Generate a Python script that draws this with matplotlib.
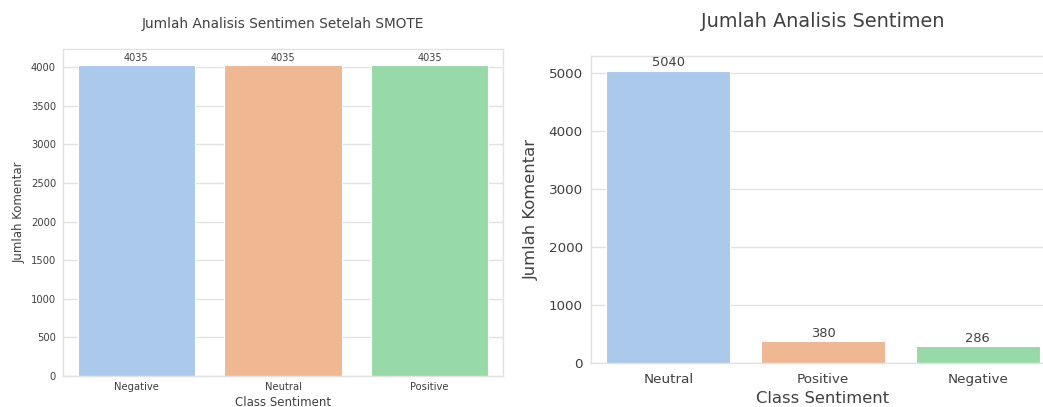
import matplotlib
matplotlib.use("Agg")
import matplotlib.pyplot as plt
import seaborn as sns

# Data
cats_smote = ["Negative", "Neutral", "Positive"]
counts_smote = [4035, 4035, 4035]
cats_orig = ["Neutral", "Positive", "Negative"]
counts_orig = [5040, 380, 286]

sns.set_theme(style="whitegrid")
plt.rcParams['font.family'] = ['DejaVu Sans']
text_c = "#404040"
plt.rcParams['text.color'] = text_c
plt.rcParams['axes.labelcolor'] = text_c
plt.rcParams['xtick.color'] = text_c
plt.rcParams['ytick.color'] = text_c

grid_c = "#e2e2e2"
colors = sns.color_palette("pastel", desat=0.75)[:3]

W, H = 1043, 407
fig = plt.figure(figsize=(W / 100, H / 100), dpi=100)


def style(ax):
    ax.xaxis.grid(False)
    ax.yaxis.grid(True, color=grid_c, linewidth=1.0)
    for s in ax.spines.values():
        s.set_color(grid_c)
        s.set_linewidth(1.0)


# Left chart
ax1 = fig.add_axes([63 / W, (H - 376) / H, 440 / W, 327 / H])
b1 = ax1.bar(range(len(cats_smote)), counts_smote, width=0.8, color=colors,
             edgecolor="white", linewidth=0.8)
ax1.set_xticks(range(len(cats_smote)))
ax1.set_xticklabels(cats_smote)
ax1.set_xlim(-0.5, len(cats_smote) - 0.5)
ax1.set_ylim(0, max(counts_smote) * 1.05)
ax1.set_yticks(range(0, 4001, 500))
ax1.tick_params(axis="both", labelsize=7.2, length=0)
ax1.tick_params(axis="x", pad=4.5)
ax1.tick_params(axis="y", pad=5)
style(ax1)
ax1.set_title("Jumlah Analisis Sentimen Setelah SMOTE", fontsize=9.8, pad=15)
ax1.set_xlabel("Class Sentiment", fontsize=8.5, labelpad=2.5)
ax1.set_ylabel("Jumlah Komentar", fontsize=8.5, labelpad=4)
ax1.bar_label(b1, labels=[str(v) for v in counts_smote], fontsize=7.0, padding=1)

# Right chart
ax2 = fig.add_axes([591 / W, (H - 363) / H, 464 / W, 307 / H])
b2 = ax2.bar(range(len(cats_orig)), counts_orig, width=0.8, color=colors,
             edgecolor="white", linewidth=0.8)
ax2.set_xticks(range(len(cats_orig)))
ax2.set_xticklabels(cats_orig)
ax2.set_xlim(-0.5, len(cats_orig) - 0.5)
ax2.set_ylim(0, max(counts_orig) * 1.05)
ax2.set_yticks(range(0, 5001, 1000))
ax2.tick_params(axis="both", labelsize=9.7, length=0)
ax2.tick_params(axis="x", pad=7)
ax2.tick_params(axis="y", pad=6)
style(ax2)
ax2.set_title("Jumlah Analisis Sentimen", fontsize=13.9, pad=21)
ax2.set_xlabel("Class Sentiment", fontsize=11.8, labelpad=4)
ax2.set_ylabel("Jumlah Komentar", fontsize=11.8, labelpad=7)
ax2.bar_label(b2, labels=[str(v) for v in counts_orig], fontsize=9.4, padding=1)

fig.savefig("out.png", dpi=100)
